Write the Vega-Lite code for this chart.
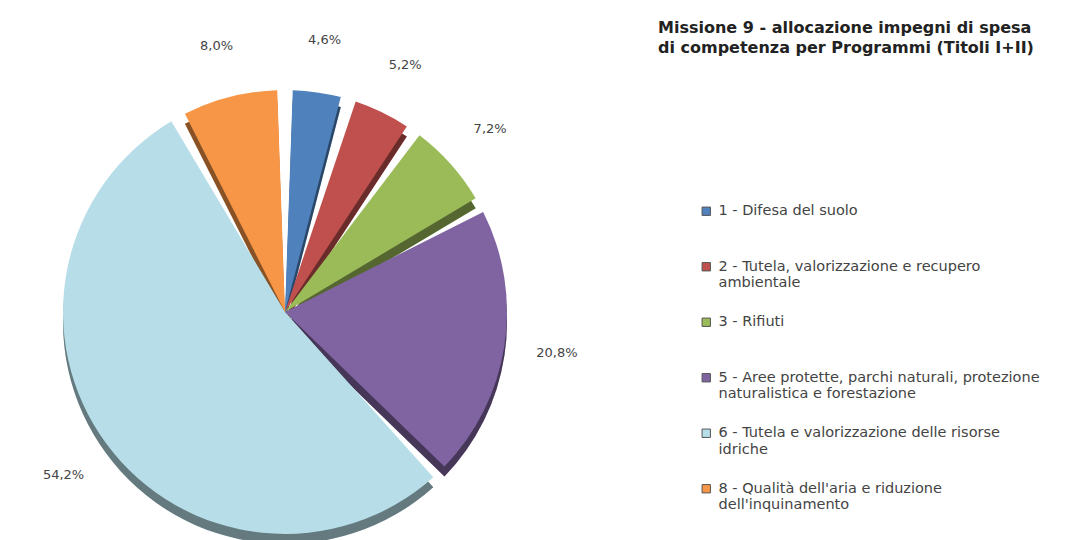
{
  "$schema": "https://vega.github.io/schema/vega-lite/v6.json",
  "width": 1065,
  "height": 540,
  "autosize": {"type": "none"},
  "padding": 0,
  "background": "white",
  "title": {
    "text": ["Missione 9 - allocazione impegni di spesa", "di competenza per Programmi (Titoli I+II)"],
    "anchor": "start",
    "dx": 658,
    "dy": 60,
    "font": "DejaVu Sans",
    "fontSize": 16,
    "fontWeight": "bold",
    "color": "#222222",
    "lineHeight": 20
  },
  "data": {
    "values": [
      {"code": 1, "programma": "1 - Difesa del suolo| ", "value": 4.6, "label": "4,6%"},
      {"code": 2, "programma": "2 - Tutela, valorizzazione e recupero|ambientale", "value": 5.2, "label": "5,2%"},
      {"code": 3, "programma": "3 - Rifiuti| ", "value": 7.2, "label": "7,2%"},
      {"code": 5, "programma": "5 - Aree protette, parchi naturali, protezione|naturalistica e forestazione", "value": 20.8, "label": "20,8%"},
      {"code": 6, "programma": "6 - Tutela e valorizzazione delle risorse|idriche", "value": 54.2, "label": "54,2%"},
      {"code": 8, "programma": "8 - Qualità dell'aria e riduzione|dell'inquinamento", "value": 8.0, "label": "8,0%"}
    ]
  },
  "encoding": {
    "theta": {"field": "value", "type": "quantitative", "stack": true},
    "order": {"field": "code", "type": "quantitative"},
    "color": {
      "field": "programma",
      "type": "nominal",
      "scale": {
        "domain": [
          "1 - Difesa del suolo| ",
          "2 - Tutela, valorizzazione e recupero|ambientale",
          "3 - Rifiuti| ",
          "5 - Aree protette, parchi naturali, protezione|naturalistica e forestazione",
          "6 - Tutela e valorizzazione delle risorse|idriche",
          "8 - Qualità dell'aria e riduzione|dell'inquinamento"
        ],
        "range": ["#4F81BD", "#C0504D", "#9BBB59", "#8064A2", "#B7DEE8", "#F79646"]
      },
      "legend": {
        "orient": "none",
        "legendX": 699,
        "legendY": 204,
        "title": null,
        "symbolType": "square",
        "symbolSize": 70,
        "symbolOpacity": 1,
        "symbolStrokeWidth": 1,
        "symbolStrokeColor": "#555555",
        "labelExpr": "split(datum.label, '|')",
        "labelFont": "DejaVu Sans",
        "labelFontSize": 14.5,
        "labelColor": "#444444",
        "labelLimit": 400,
        "labelBaseline": "top",
        "labelOffset": 5,
        "rowPadding": 23.5,
        "encode": {
          "labels": {"update": {"dy": {"value": -7}}}
        }
      }
    }
  },
  "layer": [
    {
      "mark": {"type": "arc", "radius": 222, "padAngle": 0.07, "x": 285, "y": 322}
    },
    {
      "mark": {"type": "arc", "radius": 222, "padAngle": 0.07, "x": 285, "y": 322, "fill": "black", "opacity": 0.45}
    },
    {
      "mark": {"type": "arc", "radius": 222, "padAngle": 0.07, "x": 285, "y": 312}
    },
    {
      "mark": {"type": "text", "radius": 275, "x": 285, "y": 312, "font": "DejaVu Sans", "fontSize": 13, "fill": "#444444"},
      "encoding": {
        "text": {"field": "label"}
      }
    }
  ]
}
